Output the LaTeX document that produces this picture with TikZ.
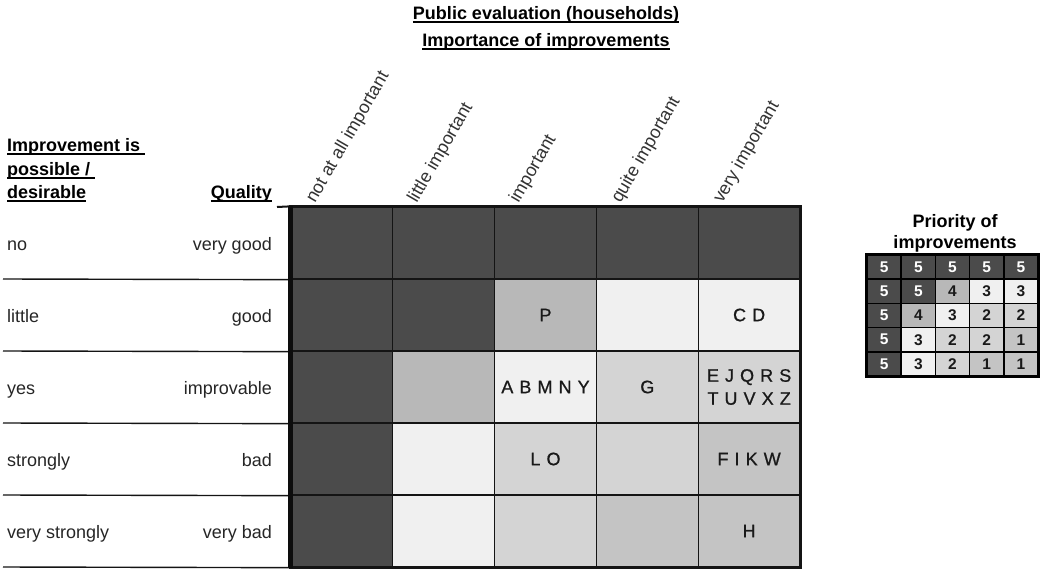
\documentclass[tikz,border=0pt]{standalone}
\usepackage{fontspec}
\setmainfont{Liberation Sans}
\definecolor{lvA}{HTML}{C4C4C4}
\definecolor{lvB}{HTML}{D4D4D4}
\definecolor{lvC}{HTML}{F0F0F0}
\definecolor{lvD}{HTML}{B8B8B8}
\definecolor{lvE}{HTML}{4B4B4B}
\definecolor{gridline}{HTML}{141414}
% underline at a fixed depth below the baseline
\newlength\ulwidth
\newcommand\ulined[1]{\settowidth\ulwidth{#1}\rlap{\rule[-4pt]{\ulwidth}{1.7pt}}#1}
\newfontfamily\cellfont[LetterSpace=6,FakeBold=0.8]{Liberation Sans}
\tikzset{
  txt/.style={inner sep=0pt, font=\fontsize{18}{23}\selectfont},
  head/.style={txt, font=\fontsize{18}{23}\selectfont\bfseries},
  colhead/.style={txt, rotate=60, anchor=base west, text=black!80},
  cell/.style={draw=gridline, line width=1.3pt, minimum width=101.8pt,
    minimum height=72pt, inner sep=0pt},
  celltext/.style={inner sep=0pt, align=center,
    font=\fontsize{18}{23}\cellfont, text=black!90},
  pcell/.style={draw=black, line width=1.7pt, minimum width=34.2pt,
    minimum height=24.2pt, inner sep=0pt,
    font=\fontsize{15.5}{18}\selectfont\bfseries},
  rowline/.style={draw=gridline, line width=1.4pt},
}
\begin{document}
\begin{tikzpicture}[x=1pt,y=-1pt]
\useasboundingbox (0,0) rectangle (1040,568);
\fill[white] (0,0) rectangle (1040,568);

% titles
\node[head, anchor=base] (title1) at (546,19) {\ulined{Public evaluation (households)}};
\node[head, anchor=base] (title2) at (546,46) {\ulined{Importance of improvements}};

% left headings
\node[head, anchor=base west] (h1) at (7,151) {\ulined{Improvement is\ }};
\node[head, anchor=base west] (h2) at (7,175) {\ulined{possible /\ }};
\node[head, anchor=base west] (h3) at (7,198) {\ulined{desirable}};
\node[head, anchor=base east] (hq) at (272,198) {\ulined{Quality}};

% main grid of cells
\foreach \r/\row in {1/{E,E,E,E,E},2/{E,E,D,C,C},3/{E,D,C,B,B},4/{E,C,B,B,A},5/{E,C,B,A,A}}{
  \foreach \lv [count=\c] in \row {
    \node[cell, fill=lv\lv] (m-\r-\c) at ({291+(\c-0.5)*101.8},{207+(\r-0.5)*72}) {};
  }
}

% rotated column headings
\foreach \c/\t in {1/not at all important,2/little important,3/important,4/quite important,5/very important}{
  \node[colhead] (ch-\c) at ({291+(\c-1)*101.8+24},204) {\t};
}

% row labels and rules
\foreach \r/\a/\b in {1/no/very good,2/little/good,3/yes/improvable,4/strongly/bad,5/very strongly/very bad}{
  \node[txt, anchor=base west, text=black!85] (ra-\r) at (7,{207+(\r-0.5)*72+7}) {\a};
  \node[txt, anchor=base east, text=black!85] (rb-\r) at (272,{207+(\r-0.5)*72+7}) {\b};
  \coordinate (rl-\r) at (3,{207+\r*72});
  \draw[rowline] (rl-\r) -- (m-\r-1.south west);
}
\coordinate (topstart) at (277,207);
\draw[draw=gridline, line width=2pt] (topstart) -- (m-1-1.north west);

% letters in the cells
\node[celltext] (l-P) at (m-2-3) {P};
\node[celltext] (l-CD) at (m-2-5) {C D};
\node[celltext] (l-AB) at (m-3-3) {A B M N Y};
\node[celltext] (l-G) at (m-3-4) {G};
\node[celltext] (l-EJ) at (m-3-5) {E J Q R S\\T U V X Z};
\node[celltext] (l-LO) at (m-4-3) {L O};
\node[celltext] (l-FI) at (m-4-5) {F I K W};
\node[celltext] (l-H) at (m-5-5) {H};

% heavy frame of the grid
\draw[draw=gridline, line width=2pt] (m-1-1.north west) rectangle (m-5-5.south east);
\draw[draw=gridline, line width=3pt] (m-1-5.north east) -- (m-5-5.south east) -- (m-5-1.south west);
\draw[draw=black!95, line width=4.5pt] (m-1-1.north west) -- (m-5-1.south west);

% priority table
\node[head, anchor=base] (pt1) at (955,227) {Priority of};
\node[head, anchor=base] (pt2) at (955,248) {improvements};
\foreach \r/\row in {1/{5,5,5,5,5},2/{5,5,4,3,3},3/{5,4,3,2,2},4/{5,3,2,2,1},5/{5,3,2,1,1}}{
  \foreach \v [count=\c] in \row {
    \ifnum\v=5 \def\tc{white}\else\def\tc{black!90}\fi
    \ifcase\v\or\def\lv{A}\or\def\lv{B}\or\def\lv{C}\or\def\lv{D}\or\def\lv{E}\fi
    \node[pcell, fill=lv\lv, text=\tc] (p-\r-\c) at ({867+(\c-0.5)*34.2},{255+(\r-0.5)*24.2}) {\v};
  }
}
\draw[line width=2.6pt] (p-1-1.north west) rectangle (p-5-5.south east);
\end{tikzpicture}
\end{document}
